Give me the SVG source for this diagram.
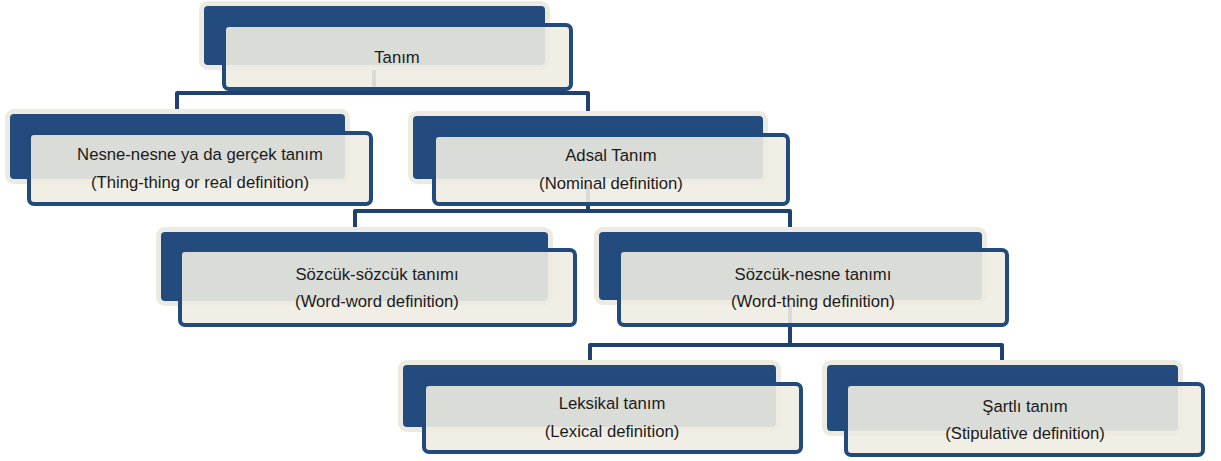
<svg xmlns="http://www.w3.org/2000/svg" width="1221" height="461" viewBox="0 0 1221 461">
<style>
.back{fill:#234b7d;stroke:#ecebe1;stroke-width:10;paint-order:stroke;}
.front{fill:#eeece2;fill-opacity:0.9;stroke:#224a7b;stroke-width:4;}
.conn{fill:none;stroke:#1f4170;stroke-width:4;stroke-linejoin:round;}
text{font-family:"Liberation Sans",Arial,sans-serif;font-size:16.7px;fill:#1a1a1a;text-anchor:middle;}
</style>
<rect width="1221" height="461" fill="#ffffff"/>
<g id="connectors">
<path class="conn" d="M374,65 V93 H177 V114"/>
<path class="conn" d="M374,65 V93 H588 V116"/>
<path class="conn" d="M588,179 V211 H355 V232"/>
<path class="conn" d="M588,179 V211 H790 V232"/>
<path class="conn" d="M790,300 V345 H590 V365"/>
<path class="conn" d="M790,300 V345 H1002 V365"/>
</g>
<g id="tanim">
<rect class="back" x="204" y="6" width="341" height="59" rx="4"/>
<rect class="front" x="224" y="25" width="347" height="64" rx="5"/>
<text x="397" y="63">Tanım</text>
</g>
<g id="nesne">
<rect class="back" x="10" y="114" width="335" height="65" rx="4"/>
<rect class="front" x="29" y="133" width="342" height="71" rx="5"/>
<text x="200" y="160">Nesne-nesne ya da gerçek tanım</text>
<text x="200" y="188">(Thing-thing or real definition)</text>
</g>
<g id="adsal">
<rect class="back" x="413" y="116" width="350" height="63" rx="4"/>
<rect class="front" x="434" y="135" width="354" height="69" rx="5"/>
<text x="611" y="161">Adsal Tanım</text>
<text x="611" y="189">(Nominal definition)</text>
</g>
<g id="sozcuk-sozcuk">
<rect class="back" x="161" y="232" width="387" height="69" rx="4"/>
<rect class="front" x="180" y="250" width="395" height="75" rx="5"/>
<text x="377" y="280">Sözcük-sözcük tanımı</text>
<text x="377" y="307">(Word-word definition)</text>
</g>
<g id="sozcuk-nesne">
<rect class="back" x="599" y="232" width="383" height="68" rx="4"/>
<rect class="front" x="619" y="250" width="388" height="75" rx="5"/>
<text x="813" y="280">Sözcük-nesne tanımı</text>
<text x="813" y="307">(Word-thing definition)</text>
</g>
<g id="leksikal">
<rect class="back" x="403" y="365" width="373" height="62" rx="4"/>
<rect class="front" x="424" y="384" width="377" height="68" rx="5"/>
<text x="612" y="409">Leksikal tanım</text>
<text x="612" y="437">(Lexical definition)</text>
</g>
<g id="sartli">
<rect class="back" x="827" y="365" width="351" height="66" rx="4"/>
<rect class="front" x="846" y="384" width="357" height="71" rx="5"/>
<text x="1025" y="412">Şartlı tanım</text>
<text x="1025" y="439">(Stipulative definition)</text>
</g>
</svg>
